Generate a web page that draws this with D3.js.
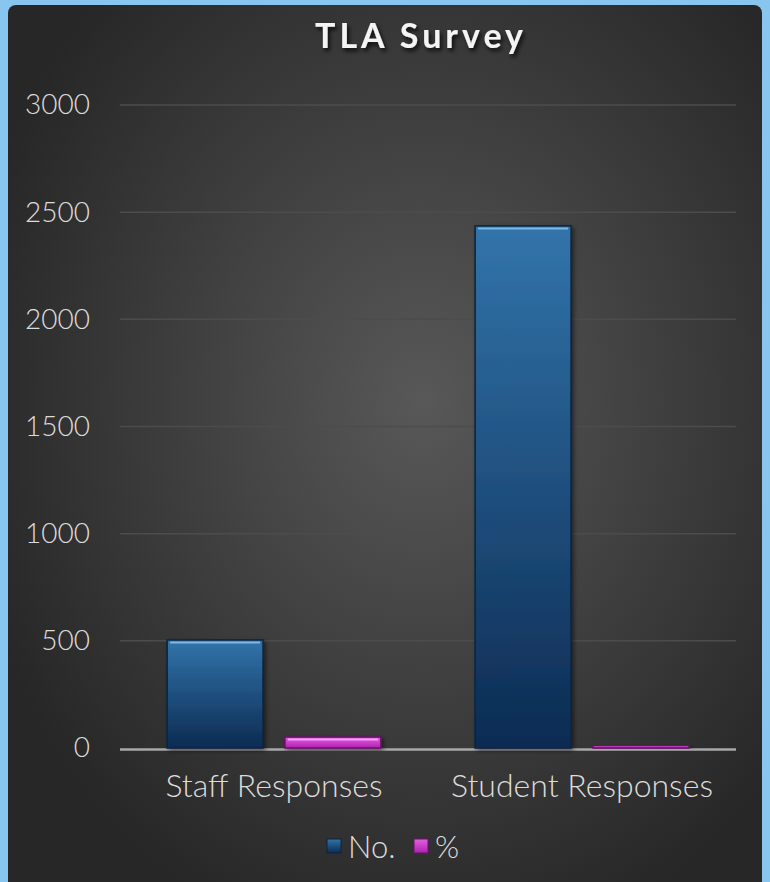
<!DOCTYPE html>
<html>
<head>
<meta charset="utf-8">
<script src="https://cdn.jsdelivr.net/npm/d3@7"></script>
<style>
  html, body { margin: 0; padding: 0; background: #88c6f0; }
  svg { display: block; }
</style>
</head>
<body>
<div id="chart"></div>
<script>
var W = 770, H = 882;

// data
var categories = ["Staff Responses", "Student Responses"];
var seriesNames = ["No.", "%"];
var valuesNo = [504, 2436];
var valuesPct = [51, 12];
var yTicks = [0, 500, 1000, 1500, 2000, 2500, 3000];

var margin = { top: 105, right: 34, bottom: 134, left: 120 };
var innerW = W - margin.left - margin.right;
var innerH = H - margin.top - margin.bottom;

var svg = d3.select("#chart").append("svg")
    .attr("width", W)
    .attr("height", H);

var defs = svg.append("defs");

var bg = defs.append("radialGradient")
    .attr("id", "bg")
    .attr("cx", "0.55").attr("cy", "0.44").attr("r", "0.62");
bg.append("stop").attr("offset", "0%").attr("stop-color", "#585858");
bg.append("stop").attr("offset", "100%").attr("stop-color", "#272727");

var gBlue = defs.append("linearGradient")
    .attr("id", "gBlue").attr("x1", 0).attr("y1", 0).attr("x2", 0).attr("y2", 1);
gBlue.append("stop").attr("offset", "0%").attr("stop-color", "#3274aa");
gBlue.append("stop").attr("offset", "100%").attr("stop-color", "#0c2b52");

var gPink = defs.append("linearGradient")
    .attr("id", "gPink").attr("x1", 0).attr("y1", 0).attr("x2", 0).attr("y2", 1);
gPink.append("stop").attr("offset", "0%").attr("stop-color", "#e060e0");
gPink.append("stop").attr("offset", "100%").attr("stop-color", "#b020b0");

var shadow = defs.append("filter").attr("id", "tshadow")
    .attr("x", "-10%").attr("y", "-20%").attr("width", "130%").attr("height", "160%");
shadow.append("feDropShadow")
    .attr("dx", 2).attr("dy", 3).attr("stdDeviation", 2)
    .attr("flood-color", "#000").attr("flood-opacity", 0.8);

var barShadow = defs.append("filter").attr("id", "bshadow")
    .attr("x", "-10%").attr("y", "-10%").attr("width", "130%").attr("height", "130%");
barShadow.append("feDropShadow")
    .attr("dx", 2).attr("dy", 2).attr("stdDeviation", 2)
    .attr("flood-color", "#000").attr("flood-opacity", 0.5);

// panel
svg.append("rect")
    .attr("x", 8).attr("y", 5)
    .attr("width", W - 16).attr("height", H + 20)
    .attr("rx", 8)
    .attr("fill", "url(#bg)");

// title
svg.append("text")
    .attr("x", 421).attr("y", 48)
    .attr("text-anchor", "middle")
    .attr("font-family", "Lato, sans-serif")
    .attr("font-weight", "bold")
    .attr("font-size", "34px")
    .attr("letter-spacing", "4px")
    .attr("fill", "#f4f4f4")
    .attr("filter", "url(#tshadow)")
    .text("TLA Survey");

var g = svg.append("g")
    .attr("transform", "translate(" + margin.left + "," + margin.top + ")");

var x0 = d3.scaleBand()
    .domain(categories)
    .range([0, innerW]);

var x1 = d3.scaleBand()
    .domain(seriesNames)
    .range([0, x0.bandwidth()])
    .paddingInner(0.186)
    .paddingOuter(0.4);

var y = d3.scaleLinear()
    .domain([0, 3000])
    .range([innerH, 0]);

// grid lines
g.selectAll(".grid")
    .data(yTicks.slice(1))
    .enter()
    .append("line")
    .attr("x1", 0)
    .attr("x2", innerW)
    .attr("y1", function (d) { return y(d); })
    .attr("y2", function (d) { return y(d); })
    .attr("stroke", "#4c4c4c")
    .attr("stroke-width", 1.5);

// y axis labels
var yAxis = d3.axisLeft(y)
    .tickValues(yTicks)
    .tickFormat(d3.format("d"))
    .tickSize(0)
    .tickPadding(30);

var ya = g.append("g").call(yAxis);
ya.select(".domain").remove();
ya.selectAll("text")
    .attr("font-family", "Lato, sans-serif")
    .attr("font-size", "28px")
    .attr("font-weight", 300)
    .attr("fill", "#dcdcdc");

// zero line (sits just under the bars)
g.append("line")
    .attr("x1", 0).attr("x2", innerW)
    .attr("y1", y(0) + 1.5).attr("y2", y(0) + 1.5)
    .attr("stroke", "#a8a8a8")
    .attr("stroke-width", 2.5);

// bars
var rows = categories.map(function (c, i) {
    return { cat: c, vals: [valuesNo[i], valuesPct[i]] };
});
var fills = ["url(#gBlue)", "url(#gPink)"];
var edges = ["#0a2440", "#6a106a"];
var tops = ["#7cb8e8", "#f8a0f8"];

var groups = g.selectAll(".cat")
    .data(rows)
    .enter()
    .append("g")
    .attr("transform", function (d) { return "translate(" + x0(d.cat) + ",0)"; });

var bars = groups.selectAll(".bar")
    .data(function (d) {
        return d.vals.map(function (v, j) { return { s: seriesNames[j], v: v, j: j }; });
    })
    .enter()
    .append("g");

bars.append("rect")
    .attr("x", function (d) { return x1(d.s); })
    .attr("y", function (d) { return y(d.v); })
    .attr("width", x1.bandwidth())
    .attr("height", function (d) { return y(0) - y(d.v); })
    .attr("fill", function (d) { return fills[d.j]; })
    .attr("stroke", function (d) { return edges[d.j]; })
    .attr("stroke-width", 1.5)
    .attr("filter", "url(#bshadow)");

// bevel highlight on top edge
bars.filter(function (d) { return y(0) - y(d.v) > 6; })
    .append("line")
    .attr("x1", function (d) { return x1(d.s) + 3; })
    .attr("x2", function (d) { return x1(d.s) + x1.bandwidth() - 3; })
    .attr("y1", function (d) { return y(d.v) + 2.5; })
    .attr("y2", function (d) { return y(d.v) + 2.5; })
    .attr("stroke", function (d) { return tops[d.j]; })
    .attr("stroke-width", 2);

// x axis labels
var xAxis = d3.axisBottom(x0).tickSize(0).tickPadding(26);
var xa = g.append("g")
    .attr("transform", "translate(0," + innerH + ")")
    .call(xAxis);
xa.select(".domain").remove();
xa.selectAll("text")
    .attr("font-family", "Lato, sans-serif")
    .attr("font-size", "32px")
    .attr("font-weight", 300)
    .attr("fill", "#dcdcdc");

// legend
var legend = svg.append("g").attr("transform", "translate(327,836)");
var legendX = [0, 87];
var lg = legend.selectAll(".lg")
    .data(seriesNames)
    .enter()
    .append("g")
    .attr("transform", function (d, i) { return "translate(" + legendX[i] + ",0)"; });
lg.append("rect")
    .attr("width", 14).attr("height", 14)
    .attr("y", 3)
    .attr("fill", function (d, i) { return fills[i]; })
    .attr("stroke", function (d, i) { return edges[i]; });
lg.append("text")
    .attr("x", 21)
    .attr("y", 22)
    .attr("font-family", "Lato, sans-serif")
    .attr("font-size", "31px")
    .attr("font-weight", 300)
    .attr("fill", "#dcdcdc")
    .text(function (d) { return d; });
</script>
</body>
</html>
